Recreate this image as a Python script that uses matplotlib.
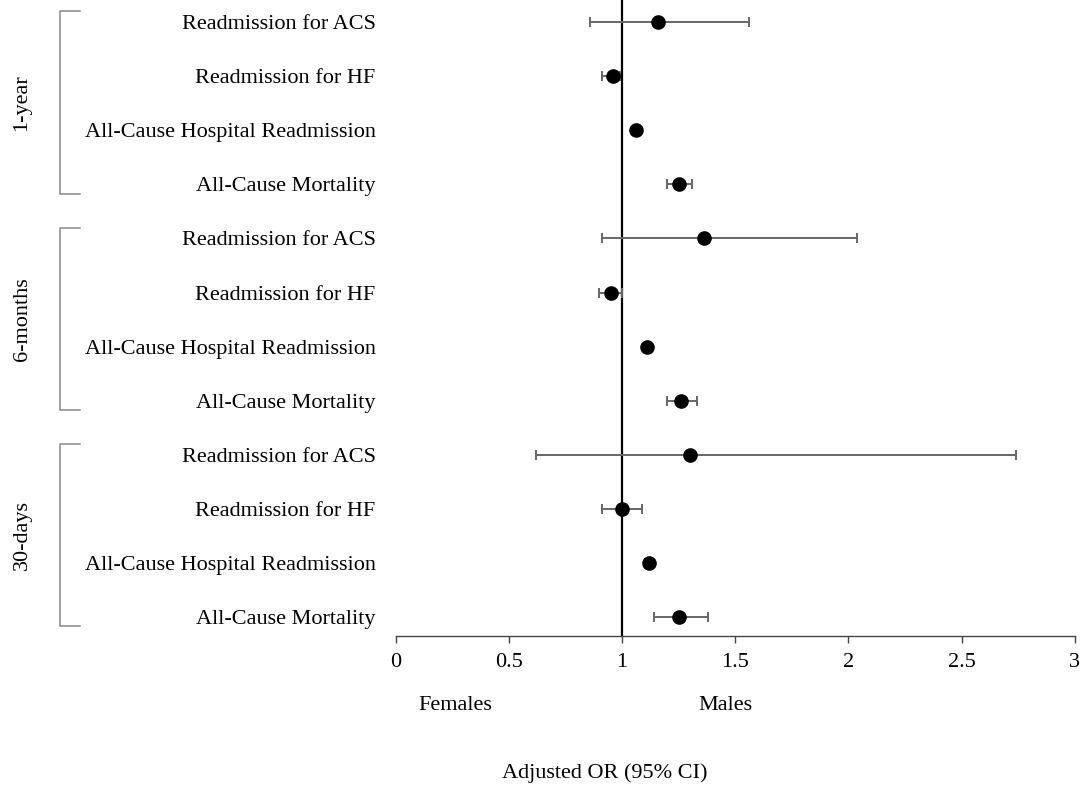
import numpy as np
import matplotlib
matplotlib.use("Agg")
import matplotlib.pyplot as plt
import matplotlib.transforms as mtransforms

plt.rcParams['font.family'] = ['Liberation Serif', 'DejaVu Serif']

# outcomes within each period (top to bottom)
outcomes = ["Readmission for ACS", "Readmission for HF",
            "All-Cause Hospital Readmission", "All-Cause Mortality"]
periods = ["1-year", "6-months", "30-days"]

# adjusted OR with 95% CI
or_1y = [1.16, 0.96, 1.06, 1.25]
lo_1y = [0.86, 0.91, 1.05, 1.20]
hi_1y = [1.56, 0.99, 1.07, 1.31]

or_6m = [1.36, 0.95, 1.11, 1.26]
lo_6m = [0.91, 0.90, 1.10, 1.20]
hi_6m = [2.04, 1.00, 1.12, 1.33]

or_30d = [1.30, 1.00, 1.12, 1.25]
lo_30d = [0.62, 0.91, 1.10, 1.14]
hi_30d = [2.74, 1.09, 1.13, 1.38]

xticks = [0, 0.5, 1, 1.5, 2, 2.5, 3]
xticklabels = ["0", "0.5", "1", "1.5", "2", "2.5", "3"]

est = or_1y + or_6m + or_30d
lo = lo_1y + lo_6m + lo_30d
hi = hi_1y + hi_6m + hi_30d
labels = outcomes * 3
n = len(est)
ypos = np.arange(n)[::-1]  # top row = n-1

fig = plt.figure(figsize=(10.84, 7.91), dpi=100)
ax = fig.add_axes([0.365, 0.196, 0.6265, 0.804])

est = np.array(est)
xerr = np.vstack([est - np.array(lo), np.array(hi) - est])
ax.errorbar(est, ypos, xerr=xerr, fmt='none', ecolor='#666666',
            elinewidth=1.4, capsize=3.5, capthick=1.4, zorder=2)
ax.plot(est, ypos, 'o', color='black', markersize=9.5, zorder=3)
ax.axvline(1, color='black', linewidth=1.6, zorder=1)

ax.set_xlim(0, 3)
ax.set_ylim(-0.35, n - 1 + 0.41)
ax.set_xticks(xticks)
ax.set_xticklabels(xticklabels, fontsize=16)
ax.set_yticks(ypos)
ax.set_yticklabels(labels, fontsize=16)
ax.tick_params(axis='y', left=False, pad=11)
ax.tick_params(axis='x', direction='out', length=5, width=1, color='#444444', pad=7)
for s in ['top', 'right', 'left']:
    ax.spines[s].set_visible(False)
ax.spines['bottom'].set_color('#444444')
ax.spines['bottom'].set_linewidth(1)

# group brackets and labels
trans = mtransforms.blended_transform_factory(fig.transFigure, ax.transData)
x_br = 60 / 1084
x_tip = 80 / 1084
for g, name in enumerate(periods):
    top = ypos[g * 4] + 0.2
    bot = ypos[g * 4 + 3] - 0.17
    ax.plot([x_tip, x_br, x_br, x_tip], [top, top, bot, bot], color='#888888',
            linewidth=1.1, transform=trans, clip_on=False)
    ax.text(22 / 1084, (top + bot) / 2, name, rotation=90, ha='center', va='center',
            fontsize=16, transform=trans)

fig.text(455 / 1084, 1 - 706 / 791, "Females", ha='center', va='center', fontsize=16)
fig.text(725 / 1084, 1 - 706 / 791, "Males", ha='center', va='center', fontsize=16)
fig.text(605 / 1084, 1 - 773 / 791, "Adjusted OR (95% CI)", ha='center', va='center', fontsize=16)

fig.savefig("out.png", dpi=100)
